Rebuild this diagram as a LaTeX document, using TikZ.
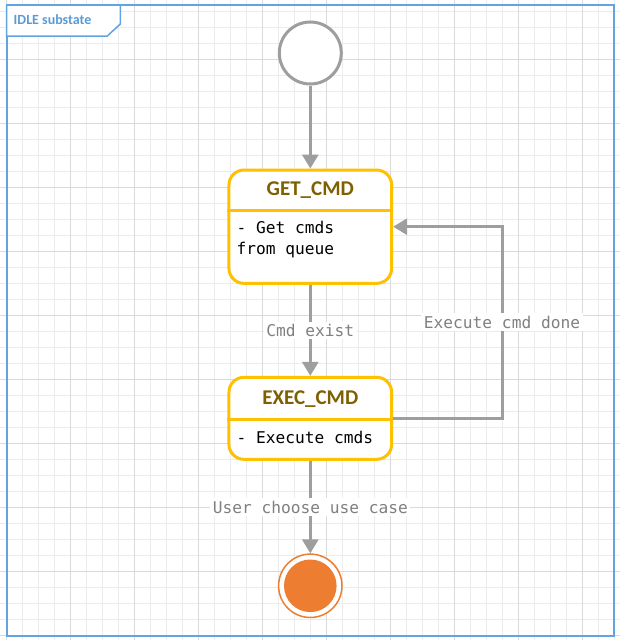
\documentclass[tikz,border=0pt]{standalone}
\usepackage{fontspec}
\newfontfamily\titlefont{Carlito}
\newfontfamily\monofont{DejaVu Sans Mono}
\usetikzlibrary{arrows.meta,calc}
\definecolor{gridminor}{HTML}{ECECEC}
\definecolor{gridmajor}{HTML}{DADADA}
\definecolor{framec}{HTML}{62A3E0}
\definecolor{tabtextc}{HTML}{5B9BD5}
\definecolor{boxc}{HTML}{FFC000}
\definecolor{titlec}{HTML}{7F6000}
\definecolor{connc}{HTML}{9E9E9E}
\definecolor{lblc}{HTML}{808080}
\definecolor{endcol}{HTML}{ED7D31}
\begin{document}
\begin{tikzpicture}[x=1pt,y=-1pt,
  gminor/.style={draw=gridminor,line width=1pt},
  gmajor/.style={draw=gridmajor,line width=1pt},
  framebox/.style={draw=framec,line width=2pt},
  tabbox/.style={draw=framec,fill=white,line width=1.5pt},
  tabtext/.style={font=\titlefont\bfseries\fontsize{14}{16}\selectfont,text=tabtextc,inner sep=0pt},
  startcirc/.style={circle,draw=connc,fill=white,line width=3pt,minimum size=62pt,inner sep=0pt},
  endring/.style={circle,draw=endcol,fill=white,line width=1.5pt,minimum size=63.4pt,inner sep=0pt},
  statebox/.style={rectangle,rounded corners=15pt,draw=boxc,fill=white,line width=3pt,inner sep=0pt,minimum width=162.7pt},
  boxline/.style={draw=boxc,line width=3pt},
  titletext/.style={font=\titlefont\bfseries\fontsize{21}{24}\selectfont,text=titlec,inner sep=0pt},
  bodytext/.style={font=\monofont\fontsize{16.2}{21}\selectfont,text=black,align=left,inner sep=0pt},
  conn/.style={draw=connc,line width=3pt,-{Triangle[width=16pt,length=14pt]}},
  lbl/.style={font=\monofont\fontsize{16.2}{20}\selectfont,text=lblc,fill=white,inner sep=2.5pt}
]
\useasboundingbox (0,0) rectangle (620,640);
\fill[white] (0,0) rectangle (620,640);
% grid
\foreach \i in {0,...,38} \draw[gminor] ({6.3+16*\i},0) -- ({6.3+16*\i},640);
\foreach \j in {0,...,39} \draw[gminor] (0,{11.7+16*\j}) -- (620,{11.7+16*\j});
\foreach \i in {0,...,9} \draw[gmajor] ({6.3+64*\i},0) -- ({6.3+64*\i},640);
\foreach \j in {0,...,9} \draw[gmajor] (0,{59.7+64*\j}) -- (620,{59.7+64*\j});
% frame
\draw[framebox] (6.5,5) rectangle (614.3,636);
\filldraw[tabbox] (6.5,5) -- (120.3,5) -- (120.3,24) -- (107.3,36) -- (6.5,36) -- cycle;
\node[tabtext,anchor=west] (tab) at (13.5,19.5) {IDLE substate};
% states
\node[startcirc] (start) at (310.3,53) {};
\node[statebox,minimum height=113.3pt] (get) at (310.3,226.7) {};
\coordinate (gdiv) at (0,210.7);
\draw[boxline] (get.west |- gdiv) -- (get.east |- gdiv);
\node[titletext] (gettitle) at (310.3,190.5) {GET\_CMD};
\node[bodytext,anchor=west] (getbody) at (236.5,239.5) {- Get cmds\\from queue};
\node[statebox,minimum height=82pt] (exec) at (310.3,418.3) {};
\coordinate (ediv) at (0,419);
\draw[boxline] (exec.west |- ediv) -- (exec.east |- ediv);
\node[titletext] (exectitle) at (310.3,399.5) {EXEC\_CMD};
\node[bodytext,anchor=west] (execbody) at (236.5,437) {- Execute cmds};
\node[endring] (end) at (310.3,585.8) {};
\fill[endcol] (end.center) circle[radius=26.3pt];
% connectors
\draw[conn] (start) -- (get);
\draw[conn] (get) -- node[lbl] (lblexist) {Cmd exist} (exec);
\draw[conn] (exec) -- node[lbl] (lbluser) {User choose use case} (end);
\coordinate (loopc) at (502,322);
\draw[conn] (exec.east) -| (loopc) |- (get.east);
\node[lbl] (lbldone) at (loopc) {Execute cmd done};
\end{tikzpicture}
\end{document}
